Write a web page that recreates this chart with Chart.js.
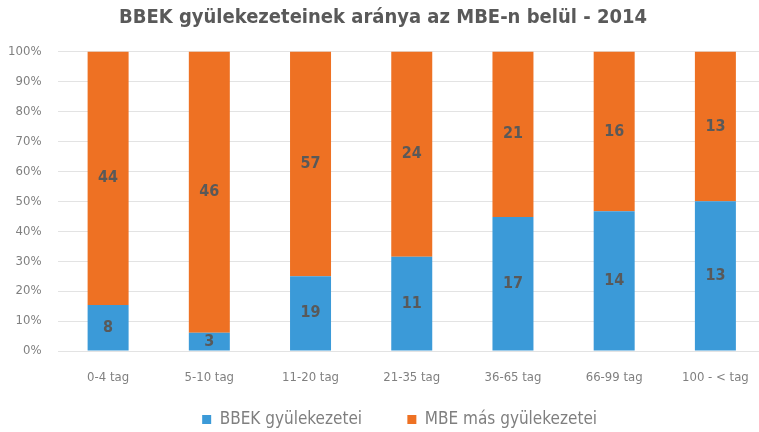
<!DOCTYPE html>
<html>
<head>
<meta charset="utf-8">
<script src="https://cdn.jsdelivr.net/npm/chart.js@4/dist/chart.umd.min.js"></script>
<style>
  html, body { margin: 0; padding: 0; overflow: hidden; background: #fff; }
  #wrap { width: 766px; height: 432px; }
</style>
</head>
<body>
<div id="wrap"><canvas id="c" width="766" height="432"></canvas></div>
<script>
const categories = ['0-4 tag', '5-10 tag', '11-20 tag', '21-35 tag', '36-65 tag', '66-99 tag', '100 - < tag'];
const bbek = [8, 3, 19, 11, 17, 14, 13];
const mbe = [44, 46, 57, 24, 21, 16, 13];
const yTicks = [0, 10, 20, 30, 40, 50, 60, 70, 80, 90, 100];

const FONT = '"DejaVu Sans Condensed", "DejaVu Sans", sans-serif';

// 100% stacked: share of each group within its category
const totals = bbek.map((v, i) => v + mbe[i]);
const bbekPct = bbek.map((v, i) => v / totals[i] * 100);
const mbePct = mbe.map((v, i) => v / totals[i] * 100);

const counts = [bbek, mbe];

const labelPlugin = {
  id: 'segLabels',
  afterDatasetsDraw(chart) {
    const ctx = chart.ctx;
    ctx.save();
    ctx.font = 'bold 16px ' + FONT;
    ctx.fillStyle = '#595959';
    ctx.textAlign = 'center';
    ctx.textBaseline = 'middle';
    chart.data.datasets.forEach((ds, di) => {
      chart.getDatasetMeta(di).data.forEach((bar, i) => {
        const mid = (bar.y + bar.base) / 2;
        ctx.fillText(counts[di][i], bar.x, mid);
      });
    });
    ctx.restore();
  }
};

new Chart(document.getElementById('c'), {
  type: 'bar',
  data: {
    labels: categories,
    datasets: [
      { label: 'BBEK gyülekezetei', data: bbekPct, backgroundColor: '#3b9ad8' },
      { label: 'MBE más gyülekezetei', data: mbePct, backgroundColor: '#ee7123' }
    ]
  },
  options: {
    responsive: false,
    animation: false,
    layout: { padding: { left: 0, right: 0, top: 4, bottom: -6 } },
    datasets: { bar: { barPercentage: 0.405, categoryPercentage: 1 } },
    plugins: {
      title: {
        display: true,
        text: 'BBEK gyülekezeteinek aránya az MBE-n belül - 2014',
        color: '#595959',
        font: { family: FONT, size: 20, weight: 'bold' },
        padding: { top: 2, bottom: 21.5 }
      },
      legend: {
        position: 'bottom',
        fullSize: false,
        labels: {
          color: '#7f7f7f',
          font: { family: FONT, size: 17 },
          boxWidth: 9,
          boxHeight: 9,
          padding: 21,
          // wider gap after the first entry, like the original
          generateLabels: chart => {
            const items = Chart.defaults.plugins.legend.labels.generateLabels(chart);
            items[0].text += '     ';
            items[1].text += '     ';
            return items;
          }
        }
      },
      tooltip: { enabled: false }
    },
    scales: {
      x: {
        stacked: true,
        grid: { display: false },
        border: { display: false },
        ticks: { color: '#808080', font: { family: FONT, size: 13 }, padding: 11 },
        afterFit: axis => { axis.height = 39; }
      },
      y: {
        stacked: true,
        min: 0,
        max: 100,
        afterBuildTicks: axis => { axis.ticks = yTicks.map(v => ({ value: v })); },
        afterFit: axis => { axis.width = 57.5; },
        grid: { color: '#e3e3e3', drawTicks: false },
        border: { display: false },
        ticks: { color: '#808080', font: { family: FONT, size: 13 }, padding: 16, callback: v => v + '%' }
      }
    }
  },
  plugins: [labelPlugin]
});
</script>
</body>
</html>
